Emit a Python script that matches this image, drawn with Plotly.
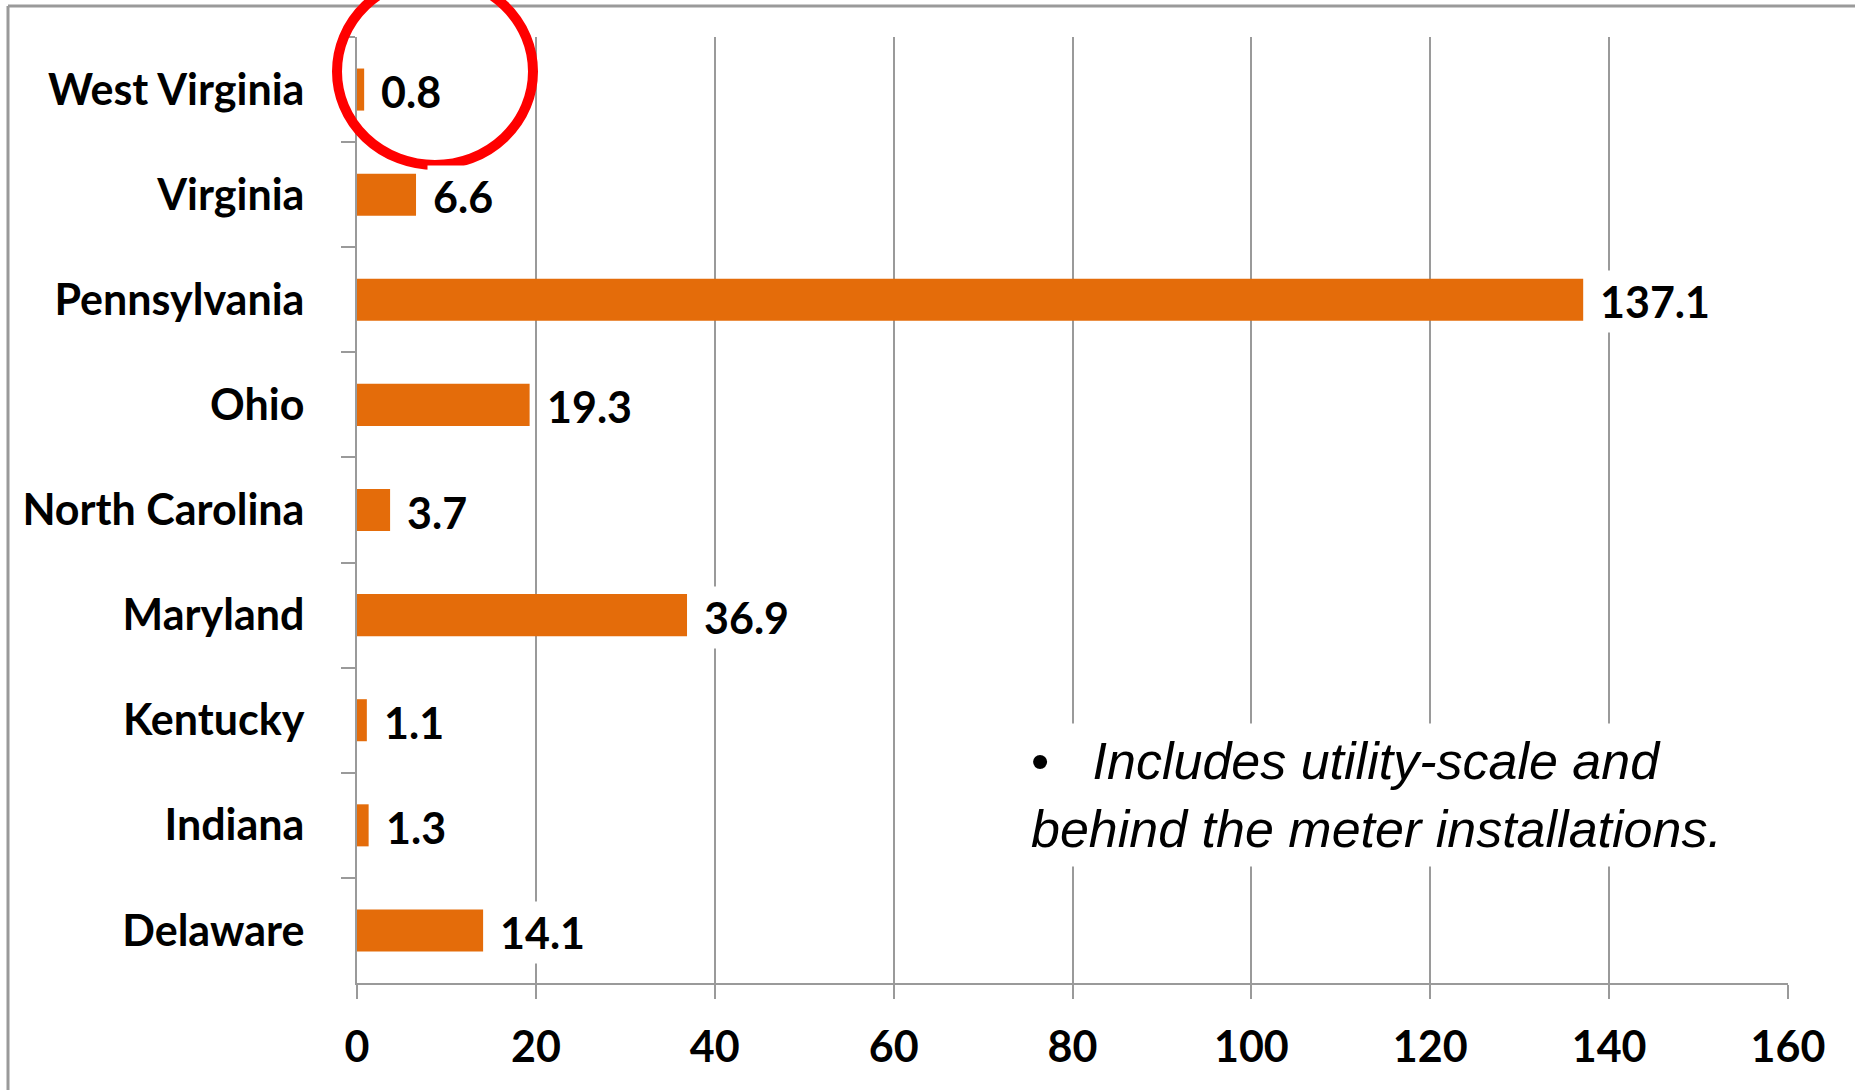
import plotly.graph_objects as go

states = ["West Virginia", "Virginia", "Pennsylvania", "Ohio", "North Carolina",
          "Maryland", "Kentucky", "Indiana", "Delaware"]
values = [0.8, 6.6, 137.1, 19.3, 3.7, 36.9, 1.1, 1.3, 14.1]
value_labels = ["0.8", "6.6", "137.1", "19.3", "3.7", "36.9", "1.1", "1.3", "14.1"]
x_ticks = [0, 20, 40, 60, 80, 100, 120, 140, 160]
note_text = "•   <i>Includes utility-scale and</i><br><i>behind the meter installations.</i>"

W, H = 1855, 1090
L, R, T, B = 357, 67, 37, 107
PW, PH = W - L - R, H - T - B

def px_x(p):
    return (p - L) / PW

def px_y(p):
    return (H - B - p) / PH

BAR = "#E46C0A"
GRID = "#9a9a9a"
LABEL_FONT = dict(family="Lato, Carlito, sans-serif", size=43, color="black", weight="bold")

fig = go.Figure()
fig.add_trace(go.Bar(
    x=values, y=states, orientation="h",
    marker=dict(color=BAR, line=dict(width=0)),
    hoverinfo="skip",
))

for v, s, t in zip(values, states, value_labels):
    fig.add_annotation(
        x=v, y=s, xref="x", yref="y", text=t, showarrow=False,
        xanchor="left", yanchor="middle", xshift=11, yshift=-2,
        bgcolor="white", borderpad=5, font=LABEL_FONT,
    )

fig.add_annotation(
    x=px_x(1022), y=px_y(795), xref="paper", yref="paper",
    text=note_text, showarrow=False, xanchor="left", yanchor="middle",
    align="left", bgcolor="white", borderpad=8,
    font=dict(family="Liberation Sans, Arial, sans-serif", size=52, color="black"),
)

# outer frame
fig.add_shape(type="line", xref="paper", yref="paper",
              x0=px_x(8), x1=px_x(8), y0=px_y(6), y1=px_y(H + 20),
              line=dict(color="#9a9a9a", width=3))
fig.add_shape(type="line", xref="paper", yref="paper",
              x0=px_x(8), x1=px_x(W + 20), y0=px_y(6), y1=px_y(6),
              line=dict(color="#9a9a9a", width=3))
# red highlight circle
fig.add_shape(type="circle", xref="paper", yref="paper",
              x0=px_x(337), x1=px_x(533), y0=px_y(-22), y1=px_y(165),
              line=dict(color="#FF0000", width=10))

fig.update_layout(
    width=W, height=H,
    margin=dict(l=L, r=R, t=T, b=B, pad=0),
    paper_bgcolor="white", plot_bgcolor="white",
    showlegend=False, bargap=0.6,
)
fig.update_xaxes(
    range=[0, 160], tickvals=x_ticks, ticktext=[str(v) for v in x_ticks],
    showgrid=True, gridcolor=GRID, gridwidth=2,
    showline=True, linecolor=GRID, linewidth=2,
    ticks="outside", ticklen=14, tickwidth=2, tickcolor=GRID,
    tickfont=LABEL_FONT, ticklabelstandoff=11, zeroline=False,
)
fig.update_yaxes(
    categoryorder="array", categoryarray=states, autorange="reversed",
    showgrid=False, showline=True, linecolor=GRID, linewidth=2,
    ticks="outside", tickson="boundaries", ticklen=14, tickwidth=2, tickcolor=GRID,
    tickfont=LABEL_FONT, ticklabelstandoff=42,
)

fig.write_html("out.html")
